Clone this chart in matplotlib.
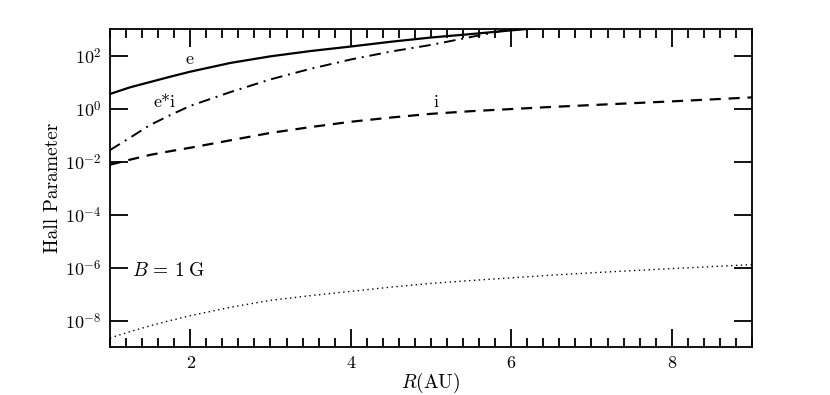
import matplotlib.pyplot as plt
import numpy as np
from matplotlib.ticker import FixedLocator, MultipleLocator, FuncFormatter

plt.rcParams['font.family'] = ['cmr10', 'DejaVu Serif']
plt.rcParams['mathtext.fontset'] = 'cm'
plt.rcParams['axes.formatter.use_mathtext'] = True

# radius (AU) and log10 of the Hall parameters
r = [1.0, 1.25, 1.5, 1.75, 2.0, 2.5, 3.0, 3.5, 4.0, 4.5, 5.0, 5.5, 6.0, 6.5, 7.0, 8.0, 9.0]
log_e = [0.55, 0.80, 1.0, 1.20, 1.39, 1.72, 1.97, 2.17, 2.34, 2.52, 2.68, 2.81, 2.95, 3.08, 3.2, 3.4, 3.55]
log_ei = [-1.57, -1.10, -0.62, -0.25, 0.10, 0.62, 1.10, 1.50, 1.85, 2.15, 2.40, 2.70, 3.0, 3.2, 3.4, 3.7, 3.9]
log_i = [-2.12, -1.93, -1.75, -1.61, -1.48, -1.20, -0.92, -0.70, -0.50, -0.34, -0.20, -0.10, -0.02, 0.06, 0.13, 0.27, 0.42]
log_dot = [-8.66, -8.42, -8.20, -8.0, -7.82, -7.50, -7.24, -7.06, -6.90, -6.74, -6.60, -6.49, -6.39, -6.29, -6.20, -6.04, -5.89]

fig = plt.figure(figsize=(8.3, 3.95), dpi=100)
ax = fig.add_axes([0.1325, 0.1215, 0.7735, 0.805])

ax.plot(r, 10 ** np.array(log_e), 'k-', lw=1.6)
ax.plot(r, 10 ** np.array(log_ei), 'k', lw=1.4, dashes=(6, 3, 1, 3))
ax.plot(r, 10 ** np.array(log_i), 'k', lw=1.6, dashes=(5, 3.5))
ax.plot(r, 10 ** np.array(log_dot), 'k', lw=1.0, dashes=(1, 2.5))

ax.set_yscale('log')
ax.set_xlim(1, 9)
ax.set_ylim(1e-9, 1e3)

ax.xaxis.set_major_locator(MultipleLocator(2))
ax.xaxis.set_minor_locator(MultipleLocator(0.2))
ax.xaxis.set_major_formatter(FuncFormatter(lambda v, p: '%d' % v))
ax.yaxis.set_major_locator(FixedLocator([1e-8, 1e-6, 1e-4, 1e-2, 1e0, 1e2]))
ax.yaxis.set_minor_locator(FixedLocator([]))
ax.yaxis.set_major_formatter(FuncFormatter(lambda v, p: r'$10^{%d}$' % round(np.log10(v))))

ax.tick_params(which='both', direction='in', top=True, right=True, width=1.3, labelsize=13)
ax.tick_params(which='major', length=13, pad=6)
ax.tick_params(which='minor', length=6.5)
for s in ax.spines.values():
    s.set_linewidth(1.3)

ax.set_xlabel(r'$R$(AU)', fontsize=14, labelpad=0)
ax.set_ylabel('Hall Parameter', fontsize=14, labelpad=2)

ax.text(1.985, 10 ** 1.86, 'e', fontsize=13, ha='center', va='center')
ax.text(1.68, 10 ** 0.24, 'e*i', fontsize=13, ha='center', va='center')
ax.text(5.06, 10 ** 0.24, 'i', fontsize=13, ha='center', va='center')
ax.text(1.27, 10 ** -6.14, r'$B\,=\,1\;\mathrm{G}$', fontsize=14, ha='left', va='center')

fig.savefig('out.png', dpi=100)
